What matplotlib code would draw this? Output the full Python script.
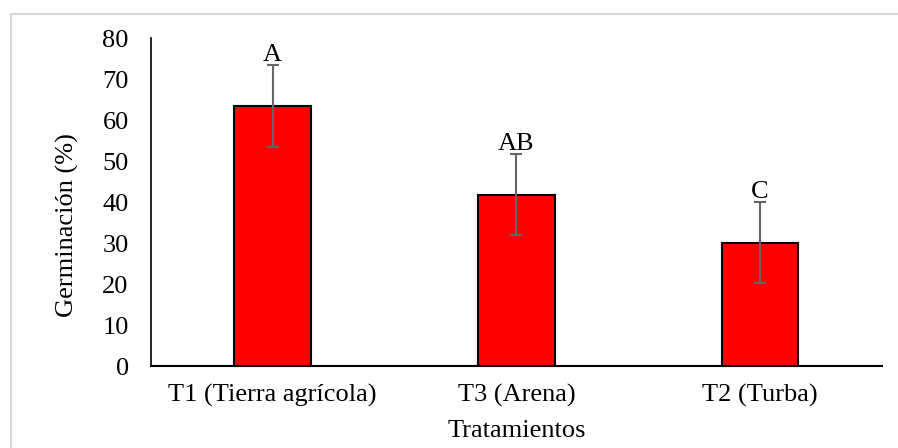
import matplotlib.pyplot as plt
from matplotlib.lines import Line2D

# datos
tratamientos = ["T1 (Tierra agrícola)", "T3 (Arena)", "T2 (Turba)"]
germinacion = [63.4, 41.8, 30.1]
error = [10.0, 9.9, 9.9]
letras = ["A", "AB", "C"]

plt.rcParams['font.family'] = ['Liberation Serif', 'DejaVu Serif']
FS = 19

fig = plt.figure(figsize=(8.98, 4.48), dpi=100)
ax = fig.add_axes([0.168, 0.183, 0.814, 0.732])

x = range(len(tratamientos))
ax.bar(x, germinacion, width=0.315, color='#ff0000', edgecolor='black', linewidth=1.5,
       yerr=error, error_kw=dict(ecolor='#666666', elinewidth=1.5, capsize=4, capthick=1.5))

for i, (v, e, t) in enumerate(zip(germinacion, error, letras)):
    ax.text(i, v + e - 0.2, t, ha='center', va='bottom', fontsize=FS)

ax.set_xlim(-0.5, 2.5)
ax.set_ylim(0, 80)
ax.set_yticks(range(0, 81, 10))
ax.set_xticks(list(x))
ax.set_xticklabels(tratamientos)
ax.tick_params(axis='both', length=0, labelsize=FS)
ax.tick_params(axis='y', pad=16)
ax.tick_params(axis='x', pad=13)
for s in ['top', 'right']:
    ax.spines[s].set_visible(False)
ax.spines['left'].set_linewidth(1.2)
ax.spines['bottom'].set_linewidth(1.5)

ax.set_ylabel('Germinación (%)', fontsize=FS)
ax.yaxis.set_label_coords(-0.098, 0.43)
ax.set_xlabel('Tratamientos', fontsize=FS, labelpad=9)

# marco del grafico (solo borde superior e izquierdo visibles)
x0, y0 = 10.5 / 898, 1 - 14 / 448
fig.add_artist(Line2D([x0, x0], [0, y0], transform=fig.transFigure, color='#d9d9d9', linewidth=1.5))
fig.add_artist(Line2D([x0, 1], [y0, y0], transform=fig.transFigure, color='#d9d9d9', linewidth=1.5))

plt.savefig('out.png', dpi=100)
